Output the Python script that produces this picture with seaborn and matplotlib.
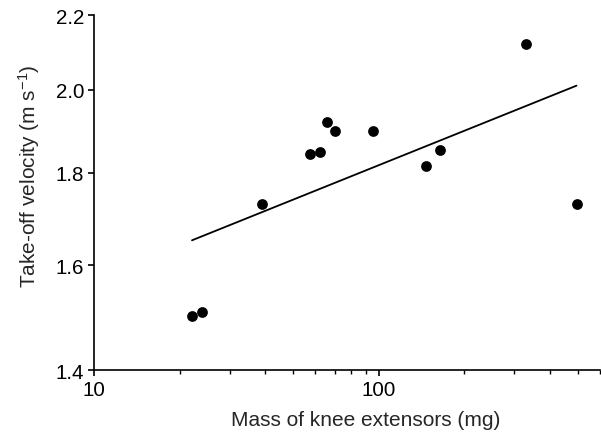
import numpy as np
import pandas as pd
import seaborn as sns
import matplotlib
matplotlib.use("Agg")
import matplotlib.pyplot as plt
from matplotlib.ticker import FixedLocator, FixedFormatter, NullFormatter, LogLocator, NullLocator

# values
knee_mass_mg = [22.1, 24.0, 38.8, 57.3, 62.2, 65.9, 70.2, 95.8, 146.5, 165.0, 330.0, 496.0]
takeoff_velocity = [1.500, 1.508, 1.729, 1.843, 1.848, 1.921, 1.899, 1.899, 1.815, 1.853, 2.121, 1.729]

x_ticks = [10, 100]
y_ticks = [1.4, 1.6, 1.8, 2.0, 2.2]
y_tick_labels = ["1.4", "1.6", "1.8", "2.0", "2.2"]

data = pd.DataFrame({"mass": knee_mass_mg, "velocity": takeoff_velocity})

# least squares fit in log-log space
slope, intercept = np.polyfit(np.log10(data["mass"]), np.log10(data["velocity"]), 1)
fit = pd.DataFrame({"mass": [data["mass"].min(), data["mass"].max()]})
fit["velocity"] = 10 ** (intercept + slope * np.log10(fit["mass"]))

sns.set_theme(style="ticks")
plt.rcParams["font.family"] = ["Liberation Sans", "DejaVu Sans"]
plt.rcParams["mathtext.fontset"] = "custom"
plt.rcParams["mathtext.rm"] = "Liberation Sans"
plt.rcParams["mathtext.it"] = "Liberation Sans:italic"

fig = plt.figure(figsize=(6.01, 4.35), dpi=100)
ax = fig.add_axes([0.1564, 0.147, 0.842, 0.816])

sns.lineplot(data=fit, x="mass", y="velocity", color="black", linewidth=1.3, ax=ax)
sns.scatterplot(data=data, x="mass", y="velocity", color="black", s=60,
                edgecolor="black", linewidth=0, ax=ax, zorder=3)

ax.set_xscale("log")
ax.set_yscale("log")
ax.set_xlim(10, 600)
ax.set_ylim(1.4, 2.2)

ax.xaxis.set_major_locator(FixedLocator(x_ticks))
ax.xaxis.set_major_formatter(FixedFormatter([str(t) for t in x_ticks]))
ax.xaxis.set_minor_locator(LogLocator(base=10, subs=np.arange(2, 10)))
ax.xaxis.set_minor_formatter(NullFormatter())

ax.yaxis.set_major_locator(FixedLocator(y_ticks))
ax.yaxis.set_major_formatter(FixedFormatter(y_tick_labels))
ax.yaxis.set_minor_locator(NullLocator())

ax.tick_params(axis="both", which="major", direction="out", length=4, width=1.2,
               colors="black", labelsize=14.8, pad=3)
ax.tick_params(axis="x", which="minor", direction="out", length=3, width=1.0, colors="black")

for side in ["top", "right"]:
    ax.spines[side].set_visible(False)
for side in ["left", "bottom"]:
    ax.spines[side].set_linewidth(1.2)
    ax.spines[side].set_color("black")

ax.set_xlabel("Mass of knee extensors (mg)", fontsize=15, labelpad=8)
ax.set_ylabel("Take-off velocity (m s$^{-1}$)", fontsize=15, labelpad=10)
# the labels in the reference sit a little off the axes centre
ax.xaxis.label.set_x(0.537)
ax.yaxis.label.set_y(0.549)

fig.savefig("out.png", dpi=100)
